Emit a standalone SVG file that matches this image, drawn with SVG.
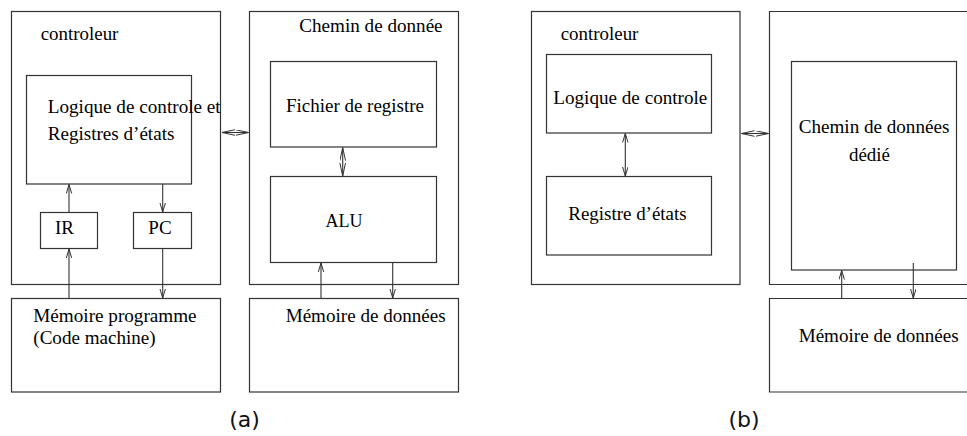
<svg xmlns="http://www.w3.org/2000/svg" width="967" height="436" viewBox="0 0 967 436">
<style>
.box{fill:none;stroke:#333;stroke-width:1.2}
.ln{fill:none;stroke:#333;stroke-width:1.1}
.t{font-family:"Liberation Serif","Times New Roman",serif;font-size:18px;fill:#000}
.lbl{font-family:"DejaVu Sans",sans-serif;font-size:22px;fill:#111;text-anchor:middle}
</style>
<defs>
<marker id="ah" markerUnits="userSpaceOnUse" markerWidth="12" markerHeight="8" refX="9" refY="3" orient="auto-start-reverse" viewBox="0 0 12 8">
<path d="M0,0.3 L9,3 L0,5.7" fill="none" stroke="#333" stroke-width="1"/>
</marker>
<marker id="ahl" markerUnits="userSpaceOnUse" markerWidth="14" markerHeight="8" refX="13" refY="3" orient="auto-start-reverse" viewBox="0 0 14 8">
<path d="M0,0.2 L13,3 L0,5.8" fill="none" stroke="#333" stroke-width="1"/>
</marker>
</defs>
<rect width="967" height="436" fill="#fff"/>

<g id="a-controleur">
<rect class="box" x="11.5" y="11.5" width="209" height="273"/>
<text class="t" x="40.7" y="39.5" textLength="77.7" lengthAdjust="spacingAndGlyphs">controleur</text>
</g>
<g id="a-logique">
<rect class="box" x="26.5" y="75.5" width="165" height="108.5"/>
<text class="t" x="47.7" y="112.5" textLength="173" lengthAdjust="spacingAndGlyphs">Logique de controle et</text>
<text class="t" x="47.7" y="140" textLength="126.7" lengthAdjust="spacingAndGlyphs">Registres d’états</text>
</g>
<g id="a-ir">
<rect class="box" x="40.5" y="212.5" width="57" height="36"/>
<text class="t" x="55" y="234" textLength="19" lengthAdjust="spacingAndGlyphs">IR</text>
</g>
<g id="a-pc">
<rect class="box" x="133.5" y="212.5" width="58" height="36"/>
<text class="t" x="148.3" y="234" textLength="23.3" lengthAdjust="spacingAndGlyphs">PC</text>
</g>
<g id="a-memprog">
<rect class="box" x="11.5" y="298.5" width="209" height="93.5"/>
<text class="t" x="33.3" y="321.5" textLength="163.3" lengthAdjust="spacingAndGlyphs">Mémoire programme</text>
<text class="t" x="33.3" y="343.5" textLength="122.3" lengthAdjust="spacingAndGlyphs">(Code machine)</text>
</g>
<g id="a-chemin">
<rect class="box" x="249.5" y="11.5" width="209" height="273"/>
<text class="t" x="299.3" y="32" textLength="143.3" lengthAdjust="spacingAndGlyphs">Chemin de donnée</text>
</g>
<g id="a-fichier">
<rect class="box" x="270.5" y="61.5" width="166" height="85.5"/>
<text class="t" x="286" y="112" textLength="138" lengthAdjust="spacingAndGlyphs">Fichier de registre</text>
</g>
<g id="a-alu">
<rect class="box" x="270.5" y="176.5" width="166" height="86"/>
<text class="t" x="344" y="227" text-anchor="middle">ALU</text>
</g>
<g id="a-memdon">
<rect class="box" x="249.5" y="298.5" width="209" height="93.5"/>
<text class="t" x="285.7" y="321.5" textLength="160" lengthAdjust="spacingAndGlyphs">Mémoire de données</text>
</g>

<g id="b-controleur">
<rect class="box" x="531.5" y="11.5" width="208.5" height="273"/>
<text class="t" x="560.7" y="39.5" textLength="77.7" lengthAdjust="spacingAndGlyphs">controleur</text>
</g>
<g id="b-logique">
<rect class="box" x="546.5" y="54.5" width="165" height="78.5"/>
<text class="t" x="553.3" y="104" textLength="154" lengthAdjust="spacingAndGlyphs">Logique de controle</text>
</g>
<g id="b-registre">
<rect class="box" x="546.5" y="176.5" width="165" height="78.5"/>
<text class="t" x="568.3" y="219.5" textLength="118.3" lengthAdjust="spacingAndGlyphs">Registre d’états</text>
</g>
<g id="b-chemin">
<path class="box" d="M980,11.5 H769.5 V284.5 H980"/>
</g>
<g id="b-dedie">
<rect class="box" x="791.5" y="61.5" width="165" height="208.5"/>
<text class="t" x="798.7" y="132.5" textLength="150.7" lengthAdjust="spacingAndGlyphs">Chemin de données</text>
<text class="t" x="849" y="161" textLength="41" lengthAdjust="spacingAndGlyphs">dédié</text>
</g>
<g id="b-memdon">
<path class="box" d="M980,298.5 H769.5 V392 H980"/>
<text class="t" x="798.7" y="342" textLength="160" lengthAdjust="spacingAndGlyphs">Mémoire de données</text>
</g>

<g id="connectors">
<line class="ln" x1="69" y1="298.5" x2="69" y2="249" marker-end="url(#ah)"/>
<line class="ln" x1="69" y1="212.5" x2="69" y2="184.5" marker-end="url(#ah)"/>
<line class="ln" x1="162.7" y1="184" x2="162.7" y2="212" marker-end="url(#ah)"/>
<line class="ln" x1="162.7" y1="248.5" x2="162.7" y2="298" marker-end="url(#ah)"/>
<line class="ln" x1="222" y1="132.5" x2="248.5" y2="132.5" marker-start="url(#ahl)" marker-end="url(#ahl)"/>
<line class="ln" x1="342.7" y1="147.5" x2="342.7" y2="176" marker-start="url(#ahl)" marker-end="url(#ahl)"/>
<line class="ln" x1="321" y1="298.5" x2="321" y2="263" marker-end="url(#ah)"/>
<line class="ln" x1="392.7" y1="262.5" x2="392.7" y2="298" marker-end="url(#ah)"/>
<line class="ln" x1="625.3" y1="133.5" x2="625.3" y2="176" marker-start="url(#ah)" marker-end="url(#ah)"/>
<line class="ln" x1="741.5" y1="133.5" x2="768.5" y2="133.5" marker-start="url(#ahl)" marker-end="url(#ahl)"/>
<line class="ln" x1="841.7" y1="298.5" x2="841.7" y2="270.5" marker-end="url(#ah)"/>
<line class="ln" x1="913.3" y1="263" x2="913.3" y2="298" marker-end="url(#ah)"/>
</g>

<text class="lbl" x="244.5" y="427">(a)</text>
<text class="lbl" x="744" y="427">(b)</text>
</svg>
